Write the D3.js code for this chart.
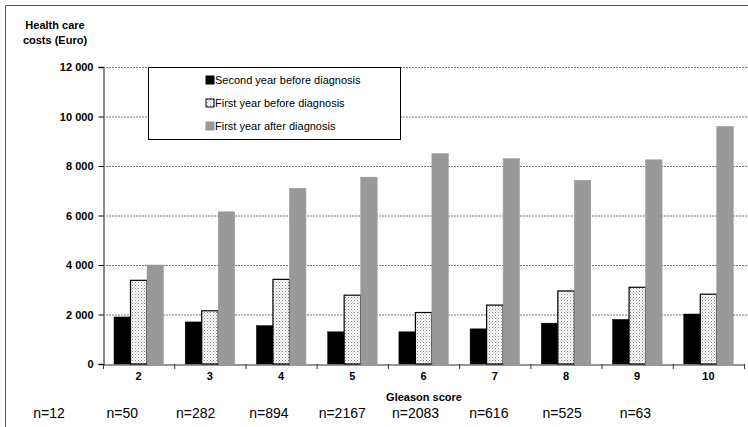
<!DOCTYPE html>
<html><head><meta charset="utf-8">
<script src="https://cdn.jsdelivr.net/npm/d3@7"></script>
<style>body{margin:0;background:#fff}text{font-family:Arial,"Liberation Sans",sans-serif}</style>
</head><body><div id="chart"></div>
<script>
// gleason score groups
var categories = ["2","3","4","5","6","7","8","9","10"];
var counts = ["n=12","n=50","n=282","n=894","n=2167","n=2083","n=616","n=525","n=63"];
var secondBefore = [1900,1700,1550,1300,1300,1420,1650,1800,2020];
var firstBefore = [3380,2150,3420,2780,2080,2380,2950,3100,2820];
var firstAfter = [4000,6150,7100,7550,8500,8300,7420,8250,9600];
var seriesNames = ["Second year before diagnosis","First year before diagnosis","First year after diagnosis"];
var yTicks = [0,2000,4000,6000,8000,10000,12000];

var W = 748, H = 427;
var svg = d3.select("#chart").append("svg").attr("width", W).attr("height", H);

var defs = svg.append("defs");
var pat = defs.append("pattern").attr("id","dots").attr("width",3).attr("height",3)
  .attr("patternUnits","userSpaceOnUse");
pat.append("rect").attr("width",3).attr("height",3).attr("fill","#fff");
pat.append("rect").attr("x",0).attr("y",0).attr("width",1).attr("height",1).attr("fill","#888");
pat.append("rect").attr("x",1.5).attr("y",1.5).attr("width",1).attr("height",1).attr("fill","#aaa");

// outer frame
svg.append("path").attr("d","M5.5,427 V5.5 H748").attr("fill","none").attr("stroke","#555");

var x = d3.scaleBand().domain(categories).range([103, 744]);
var y = d3.scaleLinear().domain([0,12000]).range([364, 67]);

// grid
svg.append("g").selectAll("line").data(yTicks.slice(1)).join("line")
  .attr("x1",103).attr("x2",748).attr("y1",d=>y(d)+0.5).attr("y2",d=>y(d)+0.5)
  .attr("stroke","#555").attr("stroke-dasharray","2,1").attr("stroke-width",0.8);

var yAxis = svg.append("g").attr("transform","translate(103.5,0)")
  .call(d3.axisLeft(y).tickValues(yTicks).tickSize(5).tickFormat(d => d3.format(",")(d).replace(",", " ")));
yAxis.select(".domain").attr("stroke","#888").attr("stroke-width",2);
yAxis.selectAll("text").attr("font-size",11).attr("font-weight","bold").attr("dx",-2);

var xAxis = svg.append("g").attr("transform","translate(0,364.5)")
  .call(d3.axisBottom(x).tickSize(0).tickSizeOuter(0));
xAxis.select(".domain").attr("stroke","#333");
xAxis.selectAll("text").attr("font-size",11).attr("font-weight","bold").attr("dy",12);
svg.append("g").selectAll("line").data(categories.concat(["end"])).join("line")
  .attr("x1",(d,i)=>103+i*x.step()+0.5).attr("x2",(d,i)=>103+i*x.step()+0.5)
  .attr("y1",364).attr("y2",369).attr("stroke","#333");

var bw = 16.5;
var data = [secondBefore, firstBefore, firstAfter];
var fills = ["#000","url(#dots)","#999"];
var strokes = ["#000","#000","#999"];
data.forEach(function(vals, s) {
  svg.append("g").selectAll("rect").data(vals).join("rect")
    .attr("x",(d,i)=>x(categories[i]) + 11 + s*bw)
    .attr("y",d=>y(d)).attr("width",bw).attr("height",d=>y(0)-y(d))
    .attr("fill",fills[s]).attr("stroke",strokes[s]).attr("stroke-width",s==1?1.2:0.5);
});

// legend
var lg = svg.append("g");
lg.append("rect").attr("x",148.5).attr("y",67.5).attr("width",252).attr("height",72)
  .attr("fill","#fff").attr("stroke","#000");
seriesNames.forEach(function(n, i) {
  var yy = 80 + i*23;
  lg.append("rect").attr("x",206).attr("y",yy-4).attr("width",8).attr("height",8)
    .attr("fill",fills[i]).attr("stroke",strokes[i]);
  lg.append("text").attr("x",215).attr("y",yy+4).attr("font-size",11).text(n);
});

svg.append("text").attr("x",55).attr("y",29).attr("font-size",11).attr("font-weight","bold")
  .attr("text-anchor","middle").text("Health care");
svg.append("text").attr("x",55).attr("y",44).attr("font-size",11).attr("font-weight","bold")
  .attr("text-anchor","middle").text("costs (Euro)");
svg.append("text").attr("x",424).attr("y",401).attr("font-size",11).attr("font-weight","bold")
  .attr("text-anchor","middle").text("Gleason score");

svg.append("g").selectAll("text").data(counts).join("text")
  .attr("x",(d,i)=>49 + i*73.3).attr("y",418).attr("font-size",14).attr("text-anchor","middle")
  .text(d=>d);
</script></body></html>
